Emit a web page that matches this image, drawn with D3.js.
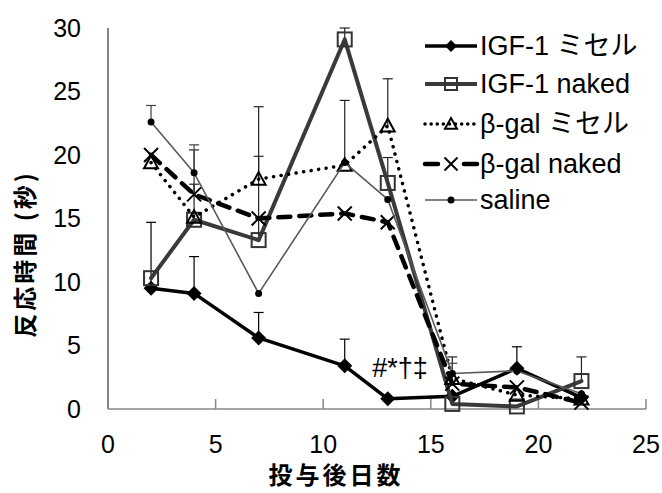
<!DOCTYPE html>
<html>
<head>
<meta charset="utf-8">
<script src="https://cdn.jsdelivr.net/npm/d3@7"></script>
<style>
  body { margin: 0; background: #fff; }
  text { font-family: "Liberation Sans", Arial, "Noto Sans CJK JP", sans-serif; }
  .jp { font-family: "Noto Sans CJK JP", sans-serif; }
</style>
</head>
<body>
<div id="chart"></div>
<script>
// days after administration
const days = [2, 4, 7, 11, 13, 16, 19, 22];

// reaction time (sec) per group, upper error bar length
const igfMicelle = [9.5, 9.1, 5.6, 3.4, 0.8, 1.0, 3.2, 0.9];
const igfMicelleErr = [5.2, 2.9, 2.0, 2.1, 0, 0, 1.7, 0];
const igfNaked = [10.3, 14.9, 13.3, 29.1, 17.8, 0.4, 0.2, 2.2];
const igfNakedErr = [0, 2.8, 6.6, 0.9, 2.0, 0, 0, 1.9];
const bgalMicelle = [19.4, 15.1, 18.1, 19.2, 22.3, 2.4, 1.1, 0.8];
const bgalMicelleErr = [0, 0, 5.7, 5.1, 3.7, 1.7, 0, 0];
const bgalNaked = [20.0, 16.9, 15.0, 15.4, 14.7, 2.0, 1.7, 0.5];
const bgalNakedErr = [0, 3.5, 0, 0, 0, 0, 0, 0];
const saline = [22.6, 18.6, 9.1, 19.4, 16.5, 2.8, 3.0, 1.2];
const salineErr = [1.3, 2.2, 0, 0, 0, 0.8, 0, 0];

const xTicks = [0, 5, 10, 15, 20, 25];
const yTicks = [0, 5, 10, 15, 20, 25, 30];

const width = 662, height = 493;

const svg = d3.select('#chart')
  .append('svg')
  .attr('width', width)
  .attr('height', height);

const x = d3.scaleLinear().domain([0, 25]).range([108, 646]);
const y = d3.scaleLinear().domain([0, 30]).range([409, 28]);

// series definitions
const series = [
  { name: 'IGF-1 ミセル', values: igfMicelle, err: igfMicelleErr, color: '#000', width: 3.5, dash: null, marker: 'diamond', errColor: '#000' },
  { name: 'IGF-1 naked', values: igfNaked, err: igfNakedErr, color: '#3a3a3a', width: 4, dash: null, marker: 'square', errColor: '#222' },
  { name: 'β-gal ミセル', values: bgalMicelle, err: bgalMicelleErr, color: '#000', width: 3.5, dash: '0.1,7.5', marker: 'triangle', errColor: '#222' },
  { name: 'β-gal naked', values: bgalNaked, err: bgalNakedErr, color: '#000', width: 4.5, dash: '12,9', marker: 'cross', errColor: '#222' },
  { name: 'saline', values: saline, err: salineErr, color: '#595959', width: 1.6, dash: null, marker: 'dot', errColor: '#444' }
];

// axes
const yAxis = svg.append('g');
yAxis.append('line')
  .attr('x1', x(0)).attr('x2', x(0))
  .attr('y1', y(0)).attr('y2', y(30))
  .attr('stroke', '#333').attr('stroke-width', 1.2);
yAxis.selectAll('text')
  .data(yTicks)
  .join('text')
  .attr('x', 81)
  .attr('y', d => y(d))
  .attr('dy', '0.35em')
  .attr('text-anchor', 'end')
  .attr('font-size', 25)
  .text(d => d);

const xAxis = svg.append('g');
xAxis.append('line')
  .attr('x1', x(0)).attr('x2', x(25))
  .attr('y1', y(0)).attr('y2', y(0))
  .attr('stroke', '#868686').attr('stroke-width', 1.5);
xAxis.selectAll('line.tick')
  .data(xTicks)
  .join('line')
  .attr('class', 'tick')
  .attr('x1', d => x(d)).attr('x2', d => x(d))
  .attr('y1', y(0)).attr('y2', y(0) - 10)
  .attr('stroke', '#868686').attr('stroke-width', 1.5);
xAxis.selectAll('text')
  .data(xTicks)
  .join('text')
  .attr('x', d => x(d))
  .attr('y', 444)
  .attr('dy', '0.35em')
  .attr('text-anchor', 'middle')
  .attr('font-size', 25)
  .text(d => d);

// axis titles
svg.append('text')
  .attr('class', 'jp')
  .attr('x', 336)
  .attr('y', 476)
  .attr('dy', '0.35em')
  .attr('text-anchor', 'middle')
  .attr('font-size', 24)
  .attr('font-weight', 'bold')
  .attr('letter-spacing', 3)
  .text('投与後日数');

svg.append('text')
  .attr('class', 'jp')
  .attr('transform', 'translate(26, 254) rotate(-90)')
  .attr('dy', '0.35em')
  .attr('text-anchor', 'middle')
  .attr('font-size', 24)
  .attr('font-weight', 'bold')
  .attr('letter-spacing', 3)
  .text('反応時間 (秒)');

// marker drawing
function drawMarker(g, type, size) {
  const h = size / 2;
  if (type === 'diamond') {
    g.append('path').attr('d', `M0,${-h}L${h},0L0,${h}L${-h},0Z`).attr('fill', '#000');
  } else if (type === 'square') {
    g.append('rect').attr('x', -h).attr('y', -h).attr('width', size).attr('height', size)
      .attr('fill', 'none').attr('stroke', '#333').attr('stroke-width', 2);
  } else if (type === 'triangle') {
    g.append('path').attr('d', `M0,${-h}L${h},${h * 0.8}L${-h},${h * 0.8}Z`)
      .attr('fill', 'none').attr('stroke', '#000').attr('stroke-width', 2);
  } else if (type === 'cross') {
    g.append('path').attr('d', `M${-h},${-h}L${h},${h}M${-h},${h}L${h},${-h}`)
      .attr('stroke', '#000').attr('stroke-width', 2);
  } else if (type === 'dot') {
    g.append('circle').attr('r', h).attr('fill', '#000');
  }
}

const markerSize = { diamond: 15, square: 14, triangle: 14, cross: 14, dot: 7 };

const line = d3.line()
  .x(d => x(d.day))
  .y(d => y(d.value));

series.forEach(s => {
  const pts = days.map((day, i) => ({ day, value: s.values[i], err: s.err[i] }));
  const g = svg.append('g');

  // upper error bars
  const eb = g.selectAll('g.err')
    .data(pts.filter(d => d.err > 0))
    .join('g')
    .attr('class', 'err');
  eb.append('line')
    .attr('x1', d => x(d.day)).attr('x2', d => x(d.day))
    .attr('y1', d => y(d.value)).attr('y2', d => y(d.value + d.err))
    .attr('stroke', s.errColor).attr('stroke-width', 1.2);
  eb.append('line')
    .attr('x1', d => x(d.day) - 5).attr('x2', d => x(d.day) + 5)
    .attr('y1', d => y(d.value + d.err)).attr('y2', d => y(d.value + d.err))
    .attr('stroke', s.errColor).attr('stroke-width', 1.2);

  g.append('path')
    .datum(pts)
    .attr('d', line)
    .attr('fill', 'none')
    .attr('stroke', s.color)
    .attr('stroke-width', s.width)
    .attr('stroke-linecap', 'round')
    .attr('stroke-linejoin', 'round')
    .attr('stroke-dasharray', s.dash);

  g.selectAll('g.mk')
    .data(pts)
    .join('g')
    .attr('class', 'mk')
    .attr('transform', d => `translate(${x(d.day)},${y(d.value)})`)
    .each(function () { drawMarker(d3.select(this), s.marker, markerSize[s.marker]); });
});

// significance marks
svg.append('text')
  .attr('x', 400)
  .attr('y', 368)
  .attr('dy', '0.35em')
  .attr('text-anchor', 'middle')
  .attr('font-size', 27)
  .text('#*†‡');

// legend
const legendY = [46, 84, 124, 164, 200];
const legend = svg.append('g')
  .selectAll('g')
  .data(series)
  .join('g')
  .attr('transform', (d, i) => `translate(425, ${legendY[i]})`);

legend.append('line')
  .attr('x1', 0).attr('x2', 52)
  .attr('stroke', d => d.color)
  .attr('stroke-width', d => d.width)
  .attr('stroke-linecap', d => d.dash ? 'round' : 'butt')
  .attr('stroke-dasharray', d => d.marker === 'triangle' ? '0.1,6' : (d.marker === 'cross' ? '13,26' : null));

legend.append('g')
  .attr('transform', 'translate(26,0)')
  .each(function (d) {
    const ms = { diamond: 12, square: 12, triangle: 12, cross: 13, dot: 7 };
    drawMarker(d3.select(this), d.marker, ms[d.marker]);
  });

legend.append('text')
  .attr('x', 55)
  .attr('dy', '0.35em')
  .attr('font-size', 27)
  .text(d => d.name);
</script>
</body>
</html>
